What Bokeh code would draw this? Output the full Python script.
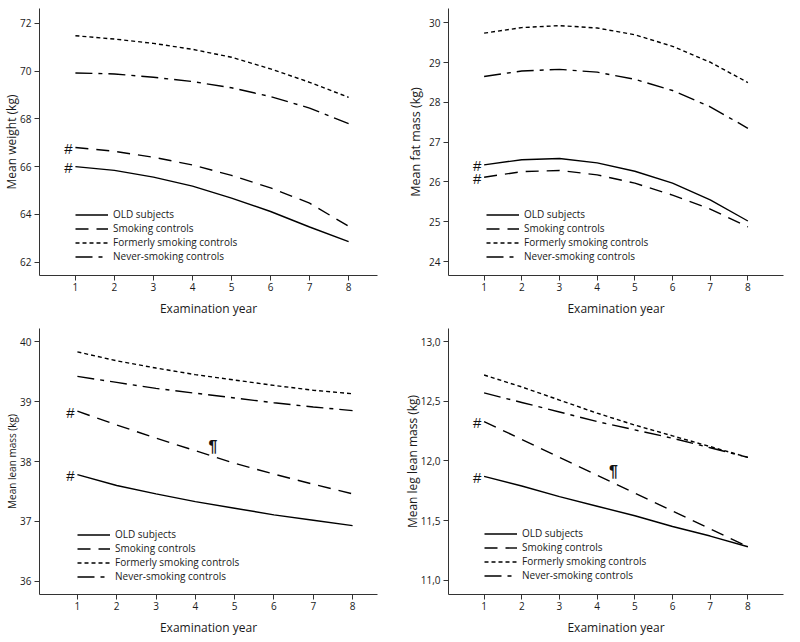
from bokeh.plotting import figure
from bokeh.layouts import gridplot
from bokeh.models import FixedTicker, Legend, LegendItem, Range1d
from bokeh.embed import file_html
from bokeh.resources import INLINE

years = [1, 2, 3, 4, 5, 6, 7, 8]
series_names = ["OLD subjects", "Smoking controls",
                "Formerly smoking controls", "Never-smoking controls"]

# Panel A: mean weight (kg)
weight_old = [66.0, 65.84, 65.56, 65.18, 64.68, 64.12, 63.47, 62.86]
weight_smoking = [66.8, 66.64, 66.39, 66.07, 65.63, 65.11, 64.47, 63.5]
weight_former = [71.48, 71.34, 71.16, 70.91, 70.58, 70.09, 69.53, 68.9]
weight_never = [69.92, 69.88, 69.74, 69.56, 69.3, 68.93, 68.45, 67.8]
weight_ticks = [62, 64, 66, 68, 70, 72]
weight_tick_labels = ["62", "64", "66", "68", "70", "72"]

# Panel B: mean fat mass (kg)
fat_old = [26.43, 26.56, 26.59, 26.48, 26.27, 25.97, 25.55, 25.02]
fat_smoking = [26.12, 26.26, 26.29, 26.18, 25.97, 25.67, 25.32, 24.87]
fat_former = [29.74, 29.88, 29.93, 29.87, 29.7, 29.41, 29.01, 28.5]
fat_never = [28.65, 28.79, 28.83, 28.76, 28.58, 28.3, 27.89, 27.35]
fat_ticks = [24, 25, 26, 27, 28, 29, 30]
fat_tick_labels = ["24", "25", "26", "27", "28", "29", "30"]

# Panel C: mean lean mass (kg)
lean_old = [37.78, 37.6, 37.46, 37.33, 37.22, 37.11, 37.02, 36.93]
lean_smoking = [38.84, 38.61, 38.39, 38.18, 37.97, 37.79, 37.62, 37.46]
lean_former = [39.83, 39.68, 39.56, 39.45, 39.36, 39.27, 39.19, 39.13]
lean_never = [39.42, 39.32, 39.22, 39.14, 39.06, 38.98, 38.91, 38.85]
lean_ticks = [36, 37, 38, 39, 40]
lean_tick_labels = ["36", "37", "38", "39", "40"]

# Panel D: mean leg lean mass (kg)
leg_old = [11.87, 11.79, 11.7, 11.62, 11.54, 11.45, 11.37, 11.28]
leg_smoking = [12.33, 12.18, 12.03, 11.88, 11.73, 11.58, 11.43, 11.28]
leg_former = [12.72, 12.62, 12.51, 12.4, 12.3, 12.21, 12.12, 12.03]
leg_never = [12.57, 12.49, 12.41, 12.33, 12.26, 12.19, 12.11, 12.03]
leg_ticks = [11.0, 11.5, 12.0, 12.5, 13.0]
leg_tick_labels = ["11,0", "11,5", "12,0", "12,5", "13,0"]

# significance marks
hash_mark = "#"
pilcrow_mark = "\u00b6"
lean_pilcrow = (4.45, 38.25)
leg_pilcrow = (4.43, 11.91)

FONT = "Open Sans"
TXT = "#1a1a1a"
DASHES = ["solid", "13 8", "4 3", "17 6 4 6"]
W, H = 400, 321


def panel(ylabel, ylabel_size, series, ticks, tick_labels, xr, yr, borders,
          legend_loc, ylabel_standoff, pilcrow=None):
    bl, br, bt, bb = borders
    p = figure(width=W, height=H, x_range=Range1d(*xr), y_range=Range1d(*yr),
               output_backend="svg", toolbar_location=None,
               min_border_left=bl, min_border_right=br,
               min_border_top=bt, min_border_bottom=bb)
    p.outline_line_color = None
    p.grid.visible = False
    p.background_fill_color = "white"
    p.border_fill_color = "white"

    rends = []
    for vals, dash in zip(series, DASHES):
        r = p.line(years, vals, line_color="black", line_width=1.4, line_dash=dash)
        rends.append(r)

    # '#' marks at the start of OLD and Smoking lines
    hx = [years[0], years[0]]
    hy = [series[0][0], series[1][0]]
    p.text(x=hx, y=hy, text=[hash_mark, hash_mark], x_offset=-7, y_offset=1,
           text_align="center", text_baseline="middle",
           text_font_size="15px", text_color="#111111")
    if pilcrow is not None:
        p.text(x=[pilcrow[0]], y=[pilcrow[1]], text=[pilcrow_mark],
               text_align="center", text_baseline="middle",
               text_font_size="16px", text_font_style="bold", text_color="#111111")

    legend = Legend(items=[LegendItem(label=n, renderers=[r])
                           for n, r in zip(series_names, rends)],
                    location=legend_loc, padding=0, margin=0, spacing=0,
                    glyph_width=33, glyph_height=13, label_height=13,
                    label_standoff=5, border_line_color=None,
                    background_fill_alpha=0,
                    label_text_font=FONT, label_text_font_size="10px",
                    label_text_color=TXT)
    p.add_layout(legend)

    for ax in (p.xaxis, p.yaxis):
        ax.axis_line_color = "#333333"
        ax.axis_line_width = 1
        ax.major_tick_line_color = "#333333"
        ax.major_tick_out = 5
        ax.major_tick_in = 0
        ax.minor_tick_out = 0
        ax.minor_tick_in = 0
        ax.major_label_text_font = FONT
        ax.major_label_text_font_size = "10px"
        ax.major_label_text_color = TXT
        ax.axis_label_text_font = FONT
        ax.axis_label_text_font_style = "normal"
        ax.axis_label_text_color = TXT

    p.xaxis.ticker = FixedTicker(ticks=years)
    p.xaxis.axis_label = "Examination year"
    p.xaxis.axis_label_text_font_size = "12px"
    p.xaxis.major_label_standoff = 2
    p.xaxis.axis_label_standoff = 6

    p.yaxis.ticker = FixedTicker(ticks=ticks)
    p.yaxis.major_label_overrides = {t: l for t, l in zip(ticks, tick_labels)}
    p.yaxis.axis_label = ylabel
    p.yaxis.axis_label_text_font_size = ylabel_size
    p.yaxis.major_label_standoff = 3
    p.yaxis.axis_label_standoff = ylabel_standoff
    return p


pA = panel("Mean weight (kg)", "12px",
           [weight_old, weight_smoking, weight_former, weight_never],
           weight_ticks, weight_tick_labels,
           (0.08, 8.74), (61.44, 72.62), (38, 23, 8, 46), (36, 12), -3)
pB = panel("Mean fat mass (kg)", "12.5px",
           [fat_old, fat_smoking, fat_former, fat_never],
           fat_ticks, fat_tick_labels,
           (0.055, 8.945), (23.65, 30.36), (44, 8, 8, 46), (38, 12), 2)
pC = panel("Mean lean mass (kg)", "10px",
           [lean_old, lean_smoking, lean_former, lean_never],
           lean_ticks, lean_tick_labels,
           (0.036, 8.634), (35.78, 40.22), (38, 23, 7, 48), (38, 11), -2,
           pilcrow=lean_pilcrow)
pD = panel("Mean leg lean mass (kg)", "12px",
           [leg_old, leg_smoking, leg_former, leg_never],
           leg_ticks, leg_tick_labels,
           (0.056, 8.944), (10.88, 13.11), (44, 17, 7, 46), (36, 12), -3,
           pilcrow=leg_pilcrow)

layout = gridplot([[pA, pB], [pC, pD]], toolbar_location=None)
open("out.html", "w").write(file_html(layout, INLINE))
